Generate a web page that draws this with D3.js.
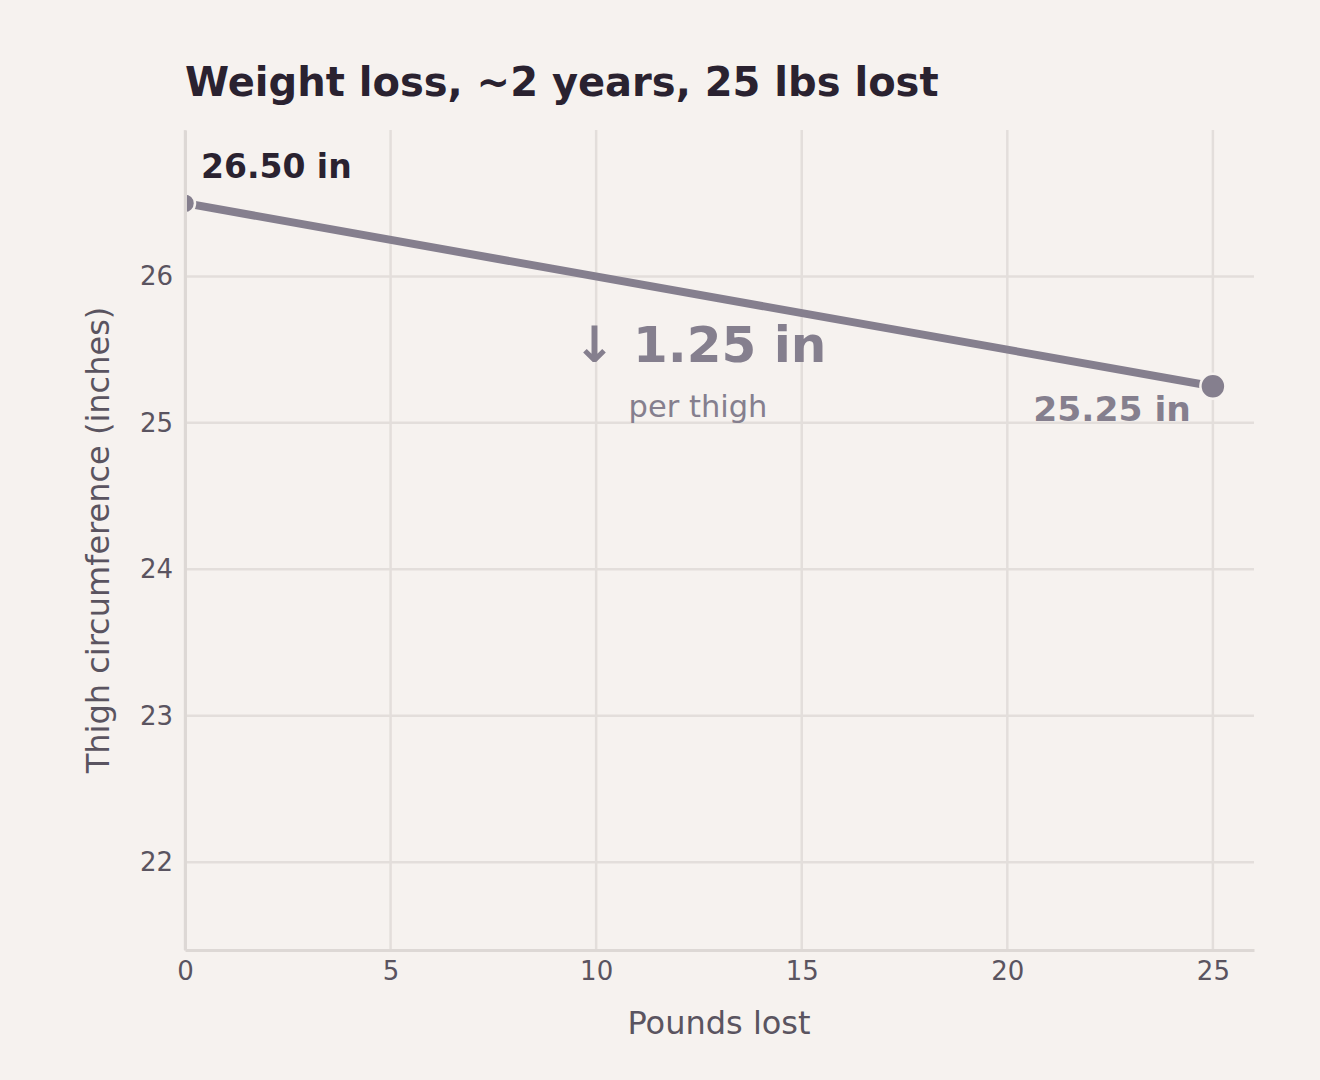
<!DOCTYPE html>
<html>
<head>
<meta charset="utf-8">
<script src="https://cdn.jsdelivr.net/npm/d3@7"></script>
<style>
    html, body {
        margin: 0;
        background: #f6f2ef;
        font-family: "DejaVu Sans", sans-serif;
    }
</style>
</head>
<body>
<svg id="chart"></svg>
<script>

    var width = 1320,
        height = 1080;

    // data
    var poundsLost = [0, 25];
    var thighInches = [26.50, 25.25];
    var xTicks = [0, 5, 10, 15, 20, 25];
    var yTicks = [22, 23, 24, 25, 26];

    var title = 'Weight loss, ~2 years, 25 lbs lost';
    var startLabel = '26.50 in',
        endLabel = '25.25 in',
        deltaLabel = '\u2193 1.25 in',
        deltaSub = 'per thigh';

    var svg = d3.select('#chart')
        .attr('width', width)
        .attr('height', height);

    svg.append('rect')
        .attr('width', width)
        .attr('height', height)
        .attr('fill', '#f6f2ef');

    var x = d3.scaleLinear().domain([0, 26]).range([185, 1254]);
    var y = d3.scaleLinear().domain([21.4, 27.0]).range([950, 130]);

    var gridColor = '#e3dedb',
        tickColor = '#5a5460',
        lineColor = '#857f8e',
        dark = '#2a2230';

    // grid
    svg.append('g').selectAll('line')
        .data(yTicks)
        .join('line')
        .attr('x1', x.range()[0]).attr('x2', x.range()[1])
        .attr('y1', d => y(d)).attr('y2', d => y(d))
        .attr('stroke', gridColor)
        .attr('stroke-width', 2.5);

    svg.append('g').selectAll('line')
        .data(xTicks)
        .join('line')
        .attr('x1', d => x(d)).attr('x2', d => x(d))
        .attr('y1', y.range()[0]).attr('y2', y.range()[1])
        .attr('stroke', gridColor)
        .attr('stroke-width', 2.5);

    // clip to plot area
    svg.append('clipPath').attr('id', 'plot')
        .append('rect')
        .attr('x', x.range()[0]).attr('y', y.range()[1])
        .attr('width', x.range()[1] - x.range()[0])
        .attr('height', y.range()[0] - y.range()[1]);

    var pts = poundsLost.map((p, i) => [p, thighInches[i]]);

    var plot = svg.append('g').attr('clip-path', 'url(#plot)');

    plot.append('path')
        .datum(pts)
        .attr('d', d3.line().x(d => x(d[0])).y(d => y(d[1])))
        .attr('fill', 'none')
        .attr('stroke', lineColor)
        .attr('stroke-width', 8);

    plot.append('circle')
        .attr('cx', x(pts[0][0])).attr('cy', y(pts[0][1]))
        .attr('r', 10)
        .attr('fill', lineColor)
        .attr('stroke', '#f6f2ef').attr('stroke-width', 2.5);

    plot.append('circle')
        .attr('cx', x(pts[1][0])).attr('cy', y(pts[1][1]))
        .attr('r', 12.5)
        .attr('fill', lineColor)
        .attr('stroke', '#f6f2ef').attr('stroke-width', 2.5);

    // axes (spines drawn over the marks)
    var xAxis = svg.append('g')
        .attr('transform', 'translate(0,' + y.range()[0] + ')')
        .call(d3.axisBottom(x).tickValues(xTicks).tickFormat(d3.format('d')).tickSize(0).tickPadding(12));
    var yAxis = svg.append('g')
        .attr('transform', 'translate(' + x.range()[0] + ',0)')
        .call(d3.axisLeft(y).tickValues(yTicks).tickFormat(d3.format('d')).tickSize(0).tickPadding(12));

    [xAxis, yAxis].forEach(function(a) {
        a.attr('font-family', null).attr('font-size', null);
        a.select('.domain').attr('stroke', '#ddd8d5').attr('stroke-width', 3);
        a.selectAll('text')
            .attr('fill', tickColor)
            .style('font-family', '"DejaVu Sans", sans-serif')
            .style('font-size', '26px');
    });
    xAxis.selectAll('text').attr('dy', '0.71em');

    // axis labels
    svg.append('text')
        .attr('x', 719).attr('y', 1034)
        .attr('text-anchor', 'middle')
        .attr('fill', tickColor)
        .style('font-size', '32px')
        .text('Pounds lost');

    svg.append('text')
        .attr('transform', 'translate(109,540) rotate(-90)')
        .attr('text-anchor', 'middle')
        .attr('fill', tickColor)
        .style('font-size', '32px')
        .text('Thigh circumference (inches)');

    // title
    svg.append('text')
        .attr('x', 185).attr('y', 96)
        .attr('fill', dark)
        .style('font-size', '40px')
        .style('font-weight', 'bold')
        .text(title);

    // annotations
    svg.append('text')
        .attr('x', x(pts[0][0]) + 16).attr('y', y(pts[0][1]) - 25)
        .attr('fill', dark)
        .style('font-size', '33px')
        .style('font-weight', 'bold')
        .text(startLabel);

    svg.append('text')
        .attr('x', x(pts[1][0]) - 22).attr('y', y(pts[1][1]) + 35)
        .attr('text-anchor', 'end')
        .attr('fill', lineColor)
        .style('font-size', '34.5px')
        .style('font-weight', 'bold')
        .text(endLabel);

    svg.append('text')
        .attr('x', 700).attr('y', 362)
        .attr('text-anchor', 'middle')
        .attr('fill', lineColor)
        .style('font-size', '50px')
        .style('font-weight', 'bold')
        .text(deltaLabel);

    svg.append('text')
        .attr('x', 698).attr('y', 417)
        .attr('text-anchor', 'middle')
        .attr('fill', lineColor)
        .style('font-size', '30.5px')
        .text(deltaSub);

</script>
</body>
</html>
